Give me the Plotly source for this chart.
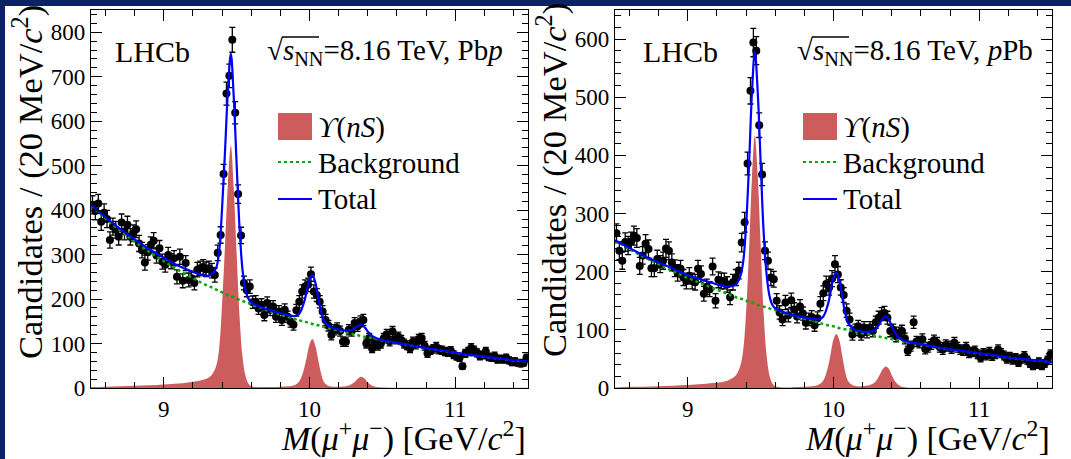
import numpy as np
import plotly.graph_objects as go

W, H = 1071, 459

# ---------------- data: bin centres (20 MeV bins, 8.5-11.5 GeV) ----------------
bin_centres = [round(8.51 + 0.02 * k, 2) for k in range(150)]

counts_pbp = [
    412, 398, 415, 374, 394, 380, 333, 363, 356, 340, 372, 352, 367, 340, 348, 357, 325, 310, 282, 305,
    322, 331, 298, 314, 284, 277, 299, 285, 292, 250, 295, 241, 281, 243, 247, 236, 266, 269, 272, 267,
    269, 264,
    254, 304, 344, 481, 662, 702, 783, 619, 436, 343, 236,
    220, 228, 193, 194, 179, 187, 164, 191, 176, 183, 160, 172, 153, 176, 160, 149, 142,
    175, 194, 217, 228, 232, 256, 217, 209, 194, 172, 153, 140, 119, 131, 135, 128, 104, 104, 131, 128,
    146, 139, 150, 153, 100, 112, 89, 100, 95, 100,
    112, 121, 105, 127, 110, 115, 108, 100, 96, 89, 104, 98, 110, 112, 95, 78, 85, 88, 93, 86,
    85, 82, 80, 84, 75, 71, 68, 49, 78, 82, 90, 85, 79, 72, 74, 82, 70, 68, 72, 64,
    66, 64, 68, 62, 58, 60, 57, 55, 57, 68,
]

counts_ppb = [
    266, 236, 219, 251, 245, 252, 262, 258, 210, 228, 248, 239, 206, 206, 222, 213, 219, 240, 236, 216,
    206, 198, 205, 190, 184, 193, 184, 182, 205, 196, 162, 174, 170, 209, 150, 186, 184, 184, 178, 156,
    182, 190,
    202, 250, 285, 386, 511, 594, 580, 452, 367, 236, 219,
    190, 187, 150, 130, 118, 147, 125, 151, 135, 123, 140, 128, 112, 118, 122, 108, 120,
    145, 163, 179, 173, 188, 213, 195, 173, 160, 133, 118, 92, 100, 106, 92, 104, 96, 104, 98, 113,
    121, 127, 129, 121, 98, 100, 89, 95, 98, 85,
    64, 72, 113, 80, 78, 84, 67, 70, 75, 82, 78, 70, 66, 74, 72, 68, 78, 70, 66, 64,
    70, 60, 62, 64, 58, 52, 60, 56, 62, 55, 58, 66, 60, 56, 50, 54, 48, 52, 44, 50,
    55, 48, 42, 38, 40, 45, 38, 42, 48, 58,
]

# ---------------- fit curves ----------------
curve_mass = [
    8.50, 8.60, 8.70, 8.80, 8.90, 9.00, 9.10, 9.20, 9.25, 9.30, 9.33, 9.36, 9.38, 9.40, 9.42, 9.44,
    9.46, 9.48, 9.50, 9.52, 9.54, 9.56, 9.58, 9.60, 9.65, 9.70, 9.80, 9.85, 9.90, 9.93, 9.96, 9.98,
    10.00, 10.02, 10.04, 10.06, 10.08, 10.10, 10.13, 10.16, 10.20, 10.25, 10.28, 10.30, 10.32, 10.34,
    10.36, 10.38, 10.40, 10.43, 10.46, 10.50, 10.60, 10.70, 10.80, 10.90, 11.00, 11.10, 11.20, 11.30,
    11.40, 11.50,
]

signal_pbp = [
    2, 3, 4, 5, 6, 8, 10, 14, 17, 22, 30, 50, 90, 190, 320, 460,
    545, 450, 300, 160, 70, 28, 10, 4, 2, 2, 3, 4, 7, 15, 40, 68,
    98, 110, 95, 63, 32, 13, 5, 3, 3, 4, 7, 11, 17, 23,
    25, 21, 13, 5, 2, 1, 0.5, 0.5, 0.5, 0.5, 0.5, 0.5, 0.5, 0.5,
    0.5, 0.5,
]
background_pbp = [
    410, 381, 354, 329, 306, 285, 265, 247, 238, 230, 226, 221, 218, 215, 212, 209,
    207, 204, 201, 198, 196, 193, 191, 188, 182, 176, 165, 160, 155, 152, 150, 148,
    146, 144, 142, 141, 139, 137, 135, 132, 129, 125, 123, 121, 120, 118,
    117, 115, 114, 112, 110, 107, 101, 95, 89, 84, 79, 74, 70, 66,
    62, 59,
]

signal_ppb = [
    1, 2, 2, 3, 4, 5, 7, 9, 11, 16, 22, 38, 65, 130, 235, 360,
    434, 365, 245, 130, 58, 22, 8, 3, 1, 1, 2, 3, 6, 13, 34, 58,
    84, 93, 82, 55, 28, 12, 5, 3, 3, 5, 9, 15, 24, 33,
    37, 33, 22, 9, 3, 1, 0.5, 0.5, 0.5, 0.5, 0.5, 0.5, 0.5, 0.5,
    0.5, 0.5,
]
background_ppb = [
    253, 239, 225, 213, 201, 189, 179, 169, 164, 159, 156, 154, 152, 150, 148, 147,
    145, 143, 142, 140, 139, 137, 135, 134, 130, 126, 119, 116, 112, 110, 108, 107,
    106, 105, 103, 102, 101, 100, 98, 96, 94, 92, 90, 89, 88, 87,
    86, 85, 84, 83, 81, 79, 75, 70, 66, 63, 59, 56, 52, 49,
    47, 44,
]

x_range = [8.5, 11.5]
y_range_pbp = [0, 850]
y_range_ppb = [0, 650]
x_ticks = [9, 10, 11]

# ---------------- styling ----------------
FONT = '"Liberation Serif", "Times New Roman", "DejaVu Serif", serif'
RED = "#cd5c5c"
GREEN = "#00a800"
BLUE = "#0000ff"
NAVY = "#0b2461"


def px(x):
    return x / W


def py(y):
    return 1 - y / H


fig = go.Figure()

panels = [
    dict(counts=counts_pbp, sig=signal_pbp, bkg=background_pbp, xa="x", ya="y"),
    dict(counts=counts_ppb, sig=signal_ppb, bkg=background_ppb, xa="x2", ya="y2"),
]

for p in panels:
    total = [s + b for s, b in zip(p["sig"], p["bkg"])]
    fig.add_trace(go.Scatter(
        x=curve_mass, y=p["sig"], mode="lines", line=dict(width=0, color=RED, shape="spline"),
        fill="tozeroy", fillcolor=RED, xaxis=p["xa"], yaxis=p["ya"], showlegend=False,
        hoverinfo="skip"))
    fig.add_trace(go.Scatter(
        x=bin_centres, y=p["counts"], mode="markers",
        marker=dict(color="black", size=8),
        error_y=dict(type="data", array=np.sqrt(np.array(p["counts"], dtype=float)),
                     color="black", thickness=1.3, width=3),
        xaxis=p["xa"], yaxis=p["ya"], showlegend=False))
    fig.add_trace(go.Scatter(
        x=curve_mass, y=p["bkg"], mode="lines",
        line=dict(color=GREEN, width=2.5, dash="dot", shape="spline"),
        xaxis=p["xa"], yaxis=p["ya"], showlegend=False))
    fig.add_trace(go.Scatter(
        x=curve_mass, y=total, mode="lines",
        line=dict(color=BLUE, width=2.2, shape="spline"),
        xaxis=p["xa"], yaxis=p["ya"], showlegend=False))

axis_common = dict(
    showline=True, linecolor="black", linewidth=1.2, mirror="ticks",
    ticks="inside", ticklen=11, tickwidth=1.2, tickcolor="black",
    showgrid=False, zeroline=False, automargin=False,
    tickfont=dict(family=FONT, size=23, color="black"),
)

fig.update_layout(
    width=W, height=H,
    margin=dict(l=0, r=0, t=0, b=0),
    paper_bgcolor="white", plot_bgcolor="white",
    font=dict(family=FONT, color="black"),
    xaxis=dict(domain=[px(91), px(528)], range=x_range, tickvals=x_ticks, anchor="y",
               minor=dict(dtick=0.2, tick0=9, ticklen=6, ticks="inside", tickcolor="black", tickwidth=1.2),
               **axis_common),
    yaxis=dict(domain=[py(388), py(10)], range=y_range_pbp, dtick=100, anchor="x",
               minor=dict(dtick=20, ticklen=6, ticks="inside", tickcolor="black", tickwidth=1.2),
               **axis_common),
    xaxis2=dict(domain=[px(615), px(1052)], range=x_range, tickvals=x_ticks, anchor="y2",
                minor=dict(dtick=0.2, tick0=9, ticklen=6, ticks="inside", tickcolor="black", tickwidth=1.2),
                **axis_common),
    yaxis2=dict(domain=[py(388), py(10)], range=y_range_ppb, dtick=100, anchor="x2",
                minor=dict(dtick=20, ticklen=6, ticks="inside", tickcolor="black", tickwidth=1.2),
                **axis_common),
)

ann = []
shapes = []

# navy frame strips (top and left)
shapes.append(dict(type="rect", xref="paper", yref="paper", x0=0, x1=1, y0=py(6), y1=1,
                   fillcolor=NAVY, line=dict(width=0), layer="above"))
shapes.append(dict(type="rect", xref="paper", yref="paper", x0=0, x1=px(5), y0=0, y1=1,
                   fillcolor=NAVY, line=dict(width=0), layer="above"))

for axl, axr, ytc, lhcb_x, en_right, leg_x, label in [
        (91, 528, 182, 152, 505, 278, "Pb<i>p</i>"),
        (615, 1052, 180, 680, 1035, 803, "<i>p</i>Pb")]:
    # axis titles
    ann.append(dict(x=px(axl - 63), y=py(ytc), xref="paper", yref="paper", showarrow=False,
                    text="Candidates / (20 MeV/<i>c</i><sup>2</sup>)", textangle=-90,
                    font=dict(family=FONT, size=34.5, color="black"), xanchor="center", yanchor="middle"))
    ann.append(dict(x=px(axr), y=py(436), xref="paper", yref="paper", showarrow=False,
                    text="<i>M</i>(<i>μ</i><sup>+</sup><i>μ</i><sup>−</sup>) [GeV/<i>c</i><sup>2</sup>]",
                    font=dict(family=FONT, size=34, color="black"), xanchor="right", yanchor="middle"))
    # LHCb label
    ann.append(dict(x=px(lhcb_x), y=py(52), xref="paper", yref="paper", showarrow=False,
                    text="LHCb", font=dict(family=FONT, size=30, color="black"),
                    xanchor="center", yanchor="middle"))
    # energy label with radical overline
    ann.append(dict(x=px(en_right), y=py(52), xref="paper", yref="paper", showarrow=False,
                    text="√<i>s</i><sub>NN</sub>=8.16 TeV, " + label,
                    font=dict(family=FONT, size=29, color="black"),
                    xanchor="right", yanchor="middle"))
    ol_x0 = en_right - 223
    shapes.append(dict(type="line", xref="paper", yref="paper", x0=px(ol_x0), x1=px(ol_x0 + 37),
                       y0=py(37), y1=py(37), line=dict(color="black", width=1.3)))
    # legend
    shapes.append(dict(type="rect", xref="paper", yref="paper", x0=px(leg_x), x1=px(leg_x + 34),
                       y0=py(140), y1=py(113), fillcolor=RED, line=dict(width=0)))
    shapes.append(dict(type="line", xref="paper", yref="paper", x0=px(leg_x), x1=px(leg_x + 34),
                       y0=py(162), y1=py(162), line=dict(color=GREEN, width=2, dash="dot")))
    shapes.append(dict(type="line", xref="paper", yref="paper", x0=px(leg_x), x1=px(leg_x + 34),
                       y0=py(199), y1=py(199), line=dict(color=BLUE, width=2.2)))
    for txt, yy in [("<i>ϒ</i>(<i>nS</i>)", 127), ("Background", 163), ("Total", 199)]:
        ann.append(dict(x=px(leg_x + 38), y=py(yy), xref="paper", yref="paper", showarrow=False,
                        text=txt, font=dict(family=FONT, size=29, color="black"),
                        xanchor="left", yanchor="middle"))

fig.update_layout(annotations=ann, shapes=shapes)
fig.write_html("out.html", config={"displayModeBar": False},
               post_script="document.body.style.margin='0px';document.body.style.overflow='hidden';")
